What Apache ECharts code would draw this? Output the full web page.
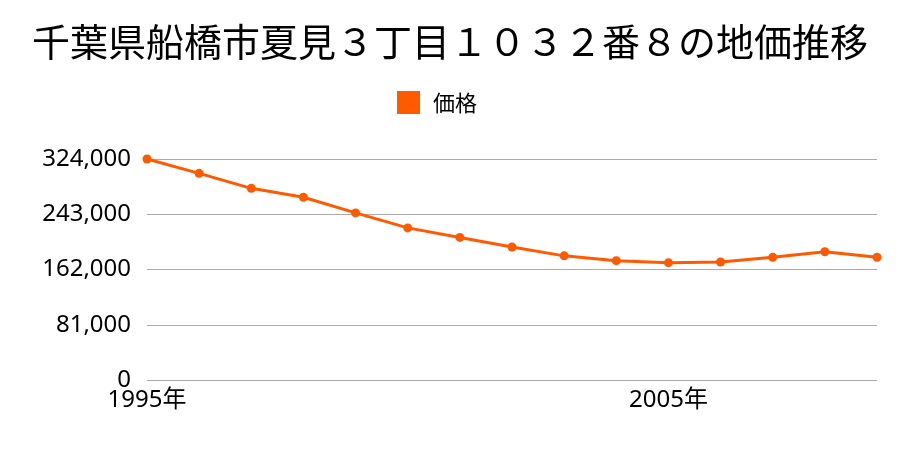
<!DOCTYPE html>
<html>
<head>
<meta charset="utf-8">
<script src="https://cdn.jsdelivr.net/npm/echarts@6/dist/echarts.min.js"></script>
<style>html,body{margin:0;padding:0;background:#fff}#c{width:900px;height:450px}</style>
</head>
<body>
<div id="c"></div>
<script>
const titleText = '千葉県船橋市夏見３丁目１０３２番８の地価推移';
const seriesName = '価格';
const years = ['1995年','1996年','1997年','1998年','1999年','2000年','2001年','2002年','2003年','2004年','2005年','2006年','2007年','2008年','2009年'];
const prices = [324000, 303000, 281000, 268000, 245000, 223000, 209000, 195000, 182000, 175000, 172000, 173000, 180000, 188000, 180000];
const yTicks = [0, 81000, 162000, 243000, 324000];

const font = '"Noto Sans CJK JP", "Noto Sans", sans-serif';
const labelFont = '"Noto Sans", "Noto Sans CJK JP", sans-serif';
const chart = echarts.init(document.getElementById('c'));
chart.setOption({
  animation: false,
  backgroundColor: '#fff',
  textStyle: { fontFamily: font },
  title: {
    text: titleText,
    left: 'center',
    top: 18,
    textStyle: { fontSize: 38, fontWeight: 'normal', color: '#000', fontFamily: font }
  },
  legend: {
    data: [seriesName],
    top: 91,
    left: 397,
    icon: 'rect',
    itemWidth: 23,
    itemHeight: 23,
    itemGap: 10,
    padding: 0,
    textStyle: { fontSize: 22, color: '#000', fontFamily: font, padding: [0, 0, 0, 8] }
  },
  grid: { left: 147, right: 23, top: 159, bottom: 70 },
  xAxis: {
    type: 'category',
    data: years,
    boundaryGap: false,
    axisLine: { show: false },
    axisTick: { show: false },
    axisLabel: { interval: 9, fontSize: 24, color: '#000', margin: 8, fontFamily: labelFont }
  },
  yAxis: {
    type: 'value',
    min: yTicks[0],
    max: yTicks[yTicks.length - 1],
    interval: yTicks[1] - yTicks[0],
    axisLine: { show: false },
    axisTick: { show: false },
    splitLine: { lineStyle: { color: '#aaaaaa', width: 1 } },
    axisLabel: {
      fontSize: 24, color: '#000', margin: 16, fontFamily: labelFont,
      formatter: v => v.toLocaleString('en-US')
    }
  },
  series: [{
    name: seriesName,
    type: 'line',
    data: prices,
    color: '#ff5a00',
    symbol: 'circle',
    symbolSize: 9,
    lineStyle: { width: 3, color: '#ff5a00' },
    itemStyle: { color: '#ff5a00' }
  }]
});
</script>
</body>
</html>
